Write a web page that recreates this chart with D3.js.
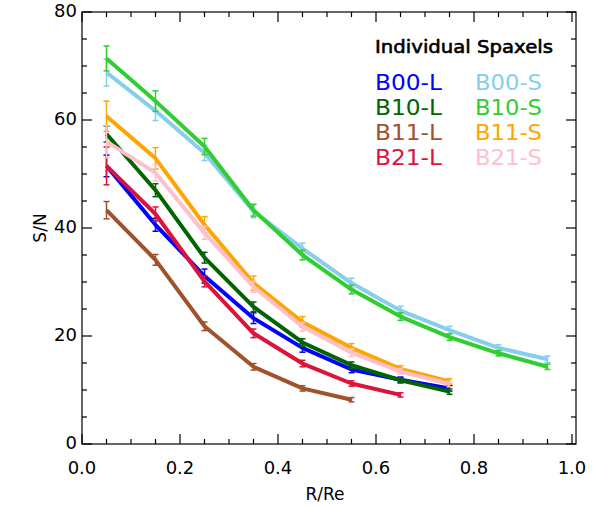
<!DOCTYPE html>
<html>
<head>
<meta charset="utf-8">
<script src="https://cdn.jsdelivr.net/npm/d3@7"></script>
<style>
  body { margin: 0; background: #fff; }
  text { font-family: "DejaVu Sans", sans-serif; }
</style>
</head>
<body>
<div id="chart"></div>
<script>
var svgWidth = 594;
var svgHeight = 506;

// radii (R/Re) of the bins
var radii = [0.05, 0.15, 0.25, 0.35, 0.45, 0.55, 0.65, 0.75, 0.85, 0.95];

var seriesNames = ["B00-L", "B10-L", "B11-L", "B21-L", "B00-S", "B10-S", "B11-S", "B21-S"];
var seriesColors = ["#0000ff", "#006400", "#a0522d", "#dc143c", "#87ceeb", "#32cd32", "#ffa500", "#ffc0cb"];

// S/N per bin
var b00L = [51.5, 40.6, 31.1, 23.3, 17.8, 13.8, 11.9, 10.3];
var b10L = [57.4, 47.0, 34.5, 25.4, 18.8, 14.6, 11.8, 9.7];
var b11L = [43.3, 34.1, 21.8, 14.3, 10.3, 8.2];
var b21L = [51.5, 42.6, 30.1, 20.5, 14.9, 11.2, 9.1];
var b00S = [68.8, 61.7, 53.9, 43.1, 36.2, 29.8, 24.7, 21.1, 17.8, 15.7];
var b10S = [71.4, 63.5, 55.1, 43.3, 35.0, 28.6, 23.6, 19.8, 16.8, 14.3];
var b11S = [60.7, 52.9, 40.6, 29.8, 22.6, 17.8, 13.9, 11.6];
var b21S = [56.0, 50.2, 39.1, 29.1, 21.7, 16.9, 13.4, 11.1];

// error bars
var b00LErr = [2.0, 1.2, 1.3, 1.0, 0.8, 0.6, 0.5, 0.5];
var b10LErr = [1.5, 1.2, 1.0, 0.9, 0.7, 0.6, 0.5, 0.5];
var b11LErr = [1.6, 1.0, 0.8, 0.6, 0.5, 0.4];
var b21LErr = [3.5, 1.3, 1.0, 0.8, 0.6, 0.5, 0.4];
var b00SErr = [2.5, 1.8, 1.4, 1.2, 1.0, 0.9, 0.8, 0.7, 0.6, 0.6];
var b10SErr = [2.3, 1.9, 1.5, 1.1, 0.9, 0.8, 0.7, 0.6, 0.5, 0.5];
var b11SErr = [2.8, 2.0, 1.5, 1.3, 1.0, 0.8, 0.6, 0.5];
var b21SErr = [3.0, 1.5, 1.2, 1.0, 0.8, 0.7, 0.5, 0.5];

var xTicks = [0.0, 0.2, 0.4, 0.6, 0.8, 1.0];
var yTicks = [0, 20, 40, 60, 80];

var allValues = [b00L, b10L, b11L, b21L, b00S, b10S, b11S, b21S];
var allErrors = [b00LErr, b10LErr, b11LErr, b21LErr, b00SErr, b10SErr, b11SErr, b21SErr];

var series = seriesNames.map(function(name, i) {
  return {
    name: name,
    color: seriesColors[i],
    points: allValues[i].map(function(v, j) {
      return { x: radii[j], y: v, e: allErrors[i][j] };
    })
  };
});

var svg = d3.select("#chart")
  .append("svg")
  .attr("width", svgWidth)
  .attr("height", svgHeight);

var xScale = d3.scaleLinear().domain([0, 1]).range([82, 572]);
var yScale = d3.scaleLinear().domain([0, 80]).range([444, 12]);
var xRight = 576;

// frame
svg.append("rect")
  .attr("x", xScale(0))
  .attr("y", yScale(80))
  .attr("width", xRight - xScale(0))
  .attr("height", yScale(0) - yScale(80))
  .attr("fill", "none")
  .attr("stroke", "#000")
  .attr("stroke-width", 1.2);

// ticks on all four sides, pointing inward
var xMinor = d3.range(0, 1.0001, 0.05);
var yMinor = d3.range(0, 80.001, 5);
var tickG = svg.append("g").attr("stroke", "#000").attr("stroke-width", 1.2);

xMinor.forEach(function(t) {
  var major = Math.abs(t * 5 - Math.round(t * 5)) < 1e-6;
  var len = major ? 10 : 5;
  tickG.append("line").attr("x1", xScale(t)).attr("x2", xScale(t))
    .attr("y1", yScale(0)).attr("y2", yScale(0) - len);
  tickG.append("line").attr("x1", xScale(t)).attr("x2", xScale(t))
    .attr("y1", yScale(80)).attr("y2", yScale(80) + len);
});
yMinor.forEach(function(t) {
  var major = t % 20 === 0;
  var len = major ? 10 : 5;
  tickG.append("line").attr("x1", xScale(0)).attr("x2", xScale(0) + len)
    .attr("y1", yScale(t)).attr("y2", yScale(t));
  tickG.append("line").attr("x1", xRight).attr("x2", xRight - len)
    .attr("y1", yScale(t)).attr("y2", yScale(t));
});

// tick labels
svg.selectAll(".xlab")
  .data(xTicks)
  .enter()
  .append("text")
  .attr("x", d => xScale(d))
  .attr("y", 474)
  .attr("text-anchor", "middle")
  .attr("font-size", "18px")
  .text(d => d3.format(".1f")(d));

svg.selectAll(".ylab")
  .data(yTicks)
  .enter()
  .append("text")
  .attr("x", 77)
  .attr("y", d => yScale(d) + 5)
  .attr("text-anchor", "end")
  .attr("font-size", "18px")
  .text(d => d);

// axis titles
svg.append("text")
  .attr("x", 325)
  .attr("y", 500)
  .attr("text-anchor", "middle")
  .attr("font-size", "17px")
  .text("R/Re");

svg.append("text")
  .attr("transform", "translate(46, 228) rotate(-90)")
  .attr("text-anchor", "middle")
  .attr("font-size", "17px")
  .text("S/N");

// lines
var line = d3.line().x(d => xScale(d.x)).y(d => yScale(d.y));

var plot = svg.append("g");
series.forEach(function(s) {
  plot.append("path")
    .datum(s.points)
    .attr("d", line)
    .attr("fill", "none")
    .attr("stroke", s.color)
    .attr("stroke-width", 4)
    .attr("stroke-linejoin", "round");

  var eb = plot.append("g").attr("stroke", s.color).attr("stroke-width", 1.5);
  s.points.forEach(function(p) {
    var cx = xScale(p.x);
    eb.append("line").attr("x1", cx).attr("x2", cx)
      .attr("y1", yScale(p.y - p.e)).attr("y2", yScale(p.y + p.e));
    eb.append("line").attr("x1", cx - 3).attr("x2", cx + 3)
      .attr("y1", yScale(p.y - p.e)).attr("y2", yScale(p.y - p.e));
    eb.append("line").attr("x1", cx - 3).attr("x2", cx + 3)
      .attr("y1", yScale(p.y + p.e)).attr("y2", yScale(p.y + p.e));
  });
});

// legend
svg.append("text")
  .attr("x", 375)
  .attr("y", 53)
  .attr("font-size", "18px")
  .attr("stroke", "#000")
  .attr("stroke-width", 0.6)
  .attr("textLength", 178)
  .attr("lengthAdjust", "spacingAndGlyphs")
  .text("Individual Spaxels");

svg.selectAll(".leg")
  .data(series)
  .enter()
  .append("text")
  .attr("x", (d, i) => i < 4 ? 375 : 475)
  .attr("y", (d, i) => 90 + (i % 4) * 25)
  .attr("font-size", "22px")
  .attr("textLength", 67)
  .attr("lengthAdjust", "spacingAndGlyphs")
  .attr("fill", d => d.color)
  .text(d => d.name);
</script>
</body>
</html>
